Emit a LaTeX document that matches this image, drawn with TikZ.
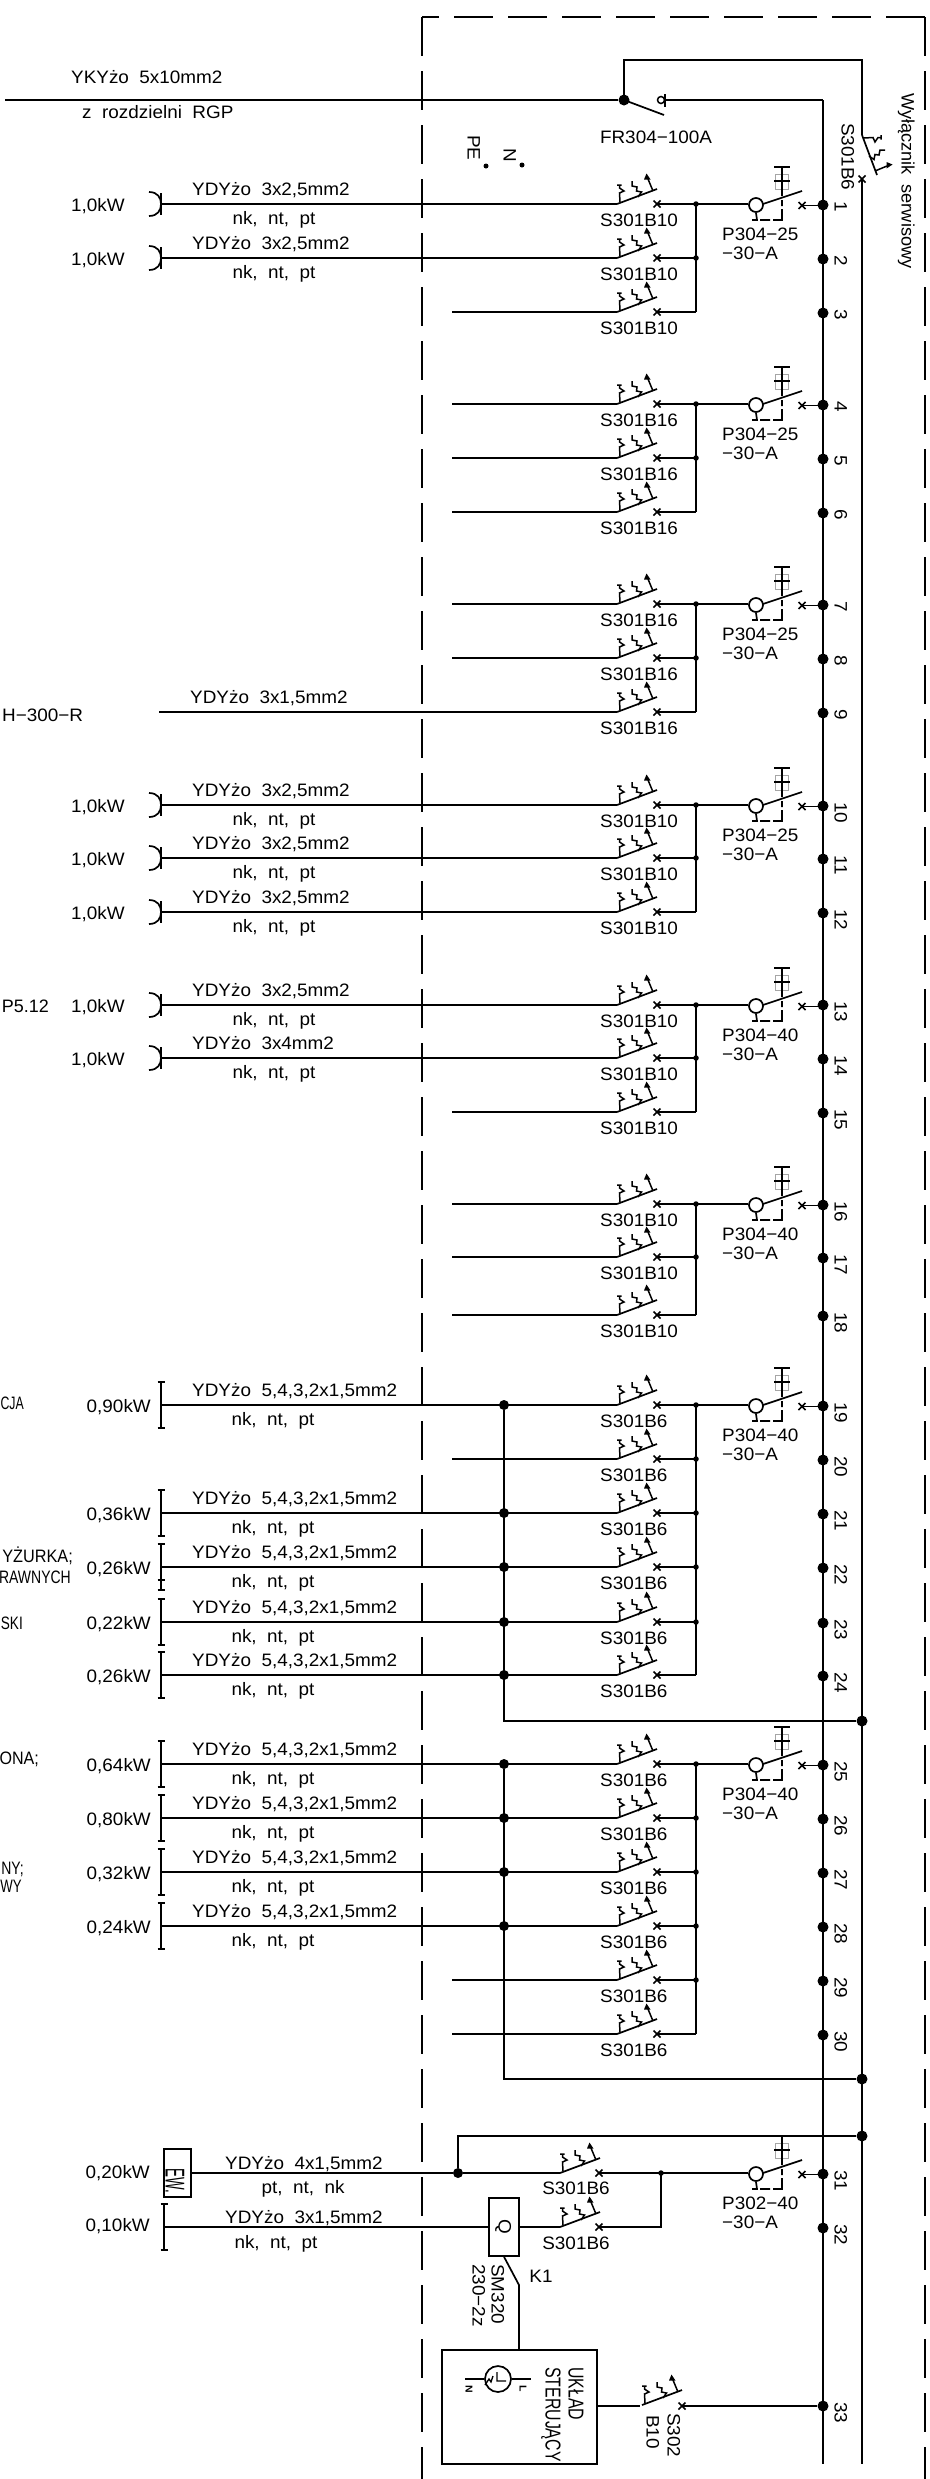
\documentclass[tikz,border=0pt]{standalone}
\usepackage{fontspec}
\usepackage{graphicx}
\setmainfont[FakeStretch=1.05]{Liberation Sans}
\tikzset{
  wire/.style={line width=1.7pt,black},
  symline/.style={line width=1.5pt,black},
  thick wire/.style={line width=2.6pt,black},
  txt/.style={font=\fontsize{18}{20}\selectfont,inner sep=0pt,text height=13pt,text depth=0pt},
  vtxt/.style={txt,rotate=-90,anchor=west},
  bigdot/.style={circle,fill=black,draw=none,minimum size=11pt,inner sep=0pt},
  smalldot/.style={circle,fill=black,draw=none,minimum size=5.5pt,inner sep=0pt},
  pedot/.style={circle,fill=black,draw=none,minimum size=5pt,inner sep=0pt},
  frameline/.style={line width=1.6pt,black,dash pattern=on 39pt off 15pt},
  greybox/.style={line width=0.8pt,black!35},
  ring/.style={circle,draw=black,line width=1.7pt,fill=white,minimum size=14pt,inner sep=0pt},
}
\newcommand\mcbsym[2]{\begin{scope}[shift={(#1)},rotate=#2]
  \draw[wire] (0,0)--(40,-15);
  \draw[symline] (0,-19)--(4.5,-19) (2.5,-19)--(2.5,-16)--(7,-13)--(2.5,-11)--(3,-2);
  \draw[symline] (15,-23)--(15,-18)--(20,-17)--(19.5,-13)--(24.5,-12)--(21,-7);
  \draw[symline] (36,-13)--(31,-25);
  \fill (29.5,-30.5)--(33.5,-24.5)--(27,-24.5)--cycle;
\end{scope}}
\newcommand\xmk[1]{\draw[wire] (#1)+(-3.5,-3.5)--+(3.5,3.5) (#1)+(-3.5,3.5)--+(3.5,-3.5);}
% #1 id, #2 row y, #3 line1 of label
\newcommand\rcdev[3]{
  \pgfmathsetmacro\ya{#2+1}\pgfmathsetmacro\ytop{#2-37}\pgfmathsetmacro\ybar{#2-23}
  \pgfmathsetmacro\ygt{#2-30}\pgfmathsetmacro\ygm{#2-22.5}\pgfmathsetmacro\ygb{#2-15}
  \pgfmathsetmacro\yda{#2-8}\pgfmathsetmacro\ydb{#2-4}\pgfmathsetmacro\ydc{#2+2}\pgfmathsetmacro\ydd{#2+5}\pgfmathsetmacro\yde{#2+16}
  \pgfmathsetmacro\yb{#2-13}\pgfmathsetmacro\yxm{#2+1.5}\pgfmathsetmacro\yca{#2+8}
  \pgfmathsetmacro\ylb{#2+30}\pgfmathsetmacro\ylc{#2+49}
  \draw[greybox] (775,\ygt) rectangle (788,\ygb) (775,\ygm)--(788,\ygm) (781.5,\ygt)--(781.5,\ygb);
  \node[ring] (C#1) at (756,\ya) {};
  \draw[wire] (J#1) -- (C#1.west|-J#1);
  \draw[wire] (763,#2)--(802,\yb);
  \draw[wire] (782,\ytop)--(782,\yda) (782,\ydb)--(782,\ydc) (782,\ydd)--(782,\yde)--(773,\yde) (770,\yde)--(760,\yde) (752,\yde)--(757,\yde)--(C#1.south);
  \draw[wire] (774,\ytop)--(790,\ytop) (774,\ybar)--(790,\ybar);
  \coordinate (R#1) at (802,\yxm);
  \xmk{R#1}
  \draw[wire] (R#1) -- (B#1.center|-R#1);
  \node[txt,anchor=west] (Pa#1) at (722,\ylb) {#3};
  \node[txt,anchor=west] (Pb#1) at (722,\ylc) {−30−A};
}
\newcommand\cabl[5]{% id y text sub subcentre
  \pgfmathsetmacro\yt{#2-15}\pgfmathsetmacro\yu{#2+14}
  \node[txt,anchor=west] (Ca#1) at (192,\yt) {#3};
  \node[txt] (Cb#1) at (#5,\yu) {#4};
}
\begin{document}
\begin{tikzpicture}[x=1pt,y=-1pt]
\useasboundingbox[fill=white] (0,0) rectangle (929,2479);
% frame
\coordinate (fa) at (422,2479); \coordinate (fb) at (422,17); \coordinate (fc) at (925,17); \coordinate (fd) at (925,2479);
\draw[frameline] (fb)--(fa);
\draw[frameline] (fc)--(fd);
\draw[frameline,dash phase=22pt] (fb)--(fc);
% bus and rail
\coordinate (bt) at (823,100); \coordinate (bb) at (823,2464);
\coordinate (bm) at (823,188);
\draw[wire] (bt)--(bm);
\draw[thick wire] (bm)--(bb);
\coordinate (rt) at (862,60); \coordinate (rs) at (862,135); \coordinate (rx) at (862,178); \coordinate (rb) at (862,2464);
% bus dots and numbers
\foreach \n/\y in {1/204,2/258,3/312,4/404,5/458,6/512,7/604,8/658,9/712,10/805,11/858,12/912,13/1004,14/1058,15/1112,16/1204,17/1257,18/1315,19/1405,20/1459,21/1513,22/1567,23/1622,24/1675,25/1764,26/1818,27/1872,28/1926,29/1980,30/2034,31/2173,32/2227,33/2405}{
  \pgfmathsetmacro\yd{\y+1}\pgfmathsetmacro\yl{\y-3}
  \node[bigdot] (B\n) at (823,\yd) {};
  \node[vtxt] (Nr\n) at (841,\yl) {\n};
}
% feeder
\coordinate (ins) at (5,100);
\node[bigdot] (frp) at (624,100) {};
\coordinate (frt) at (624,60);
\draw[wire] (ins)--(frp);
\draw[wire] (frp.center)--(frt)--(rt)--(rs);
\draw[wire] (frp.center)--(664,115);
\node[circle,draw=black,line width=1.5pt,minimum size=7pt,inner sep=0pt] (frc) at (661,100) {};
\draw[wire] (665,94)--(665,107);
\draw[wire] (665,100)--(bt);
\node[txt] (fr) at (656,137) {FR304−100A};
\node[txt,anchor=west] (ykya) at (71,77) {YKYżo~~5x10mm2};
\node[txt,anchor=west] (ykyb) at (82,112) {z~~rozdzielni~~RGP};
\node[vtxt] (pe) at (474,135) {PE};
\node[vtxt] (nn) at (510,148) {N};
\node[pedot] (ped) at (486,166) {};
\node[pedot] (ned) at (522,165) {};
% rail switch
\mcbsym{rs}{-90}
\coordinate (rxm) at (862,179);
\xmk{rxm}
\draw[wire] (rxm)--(rb);
\node[vtxt] (s6) at (848,123) {S301B6};
\node[vtxt] (wyl) at (908,93) {\scalebox{0.96}[1]{Wyłącznik~~serwisowy}};
% branches
\foreach \n/\y/\lx/\lab in {
 1/204/160/S301B10,2/258/160/S301B10,3/312/452/S301B10,
 4/404/452/S301B16,5/458/452/S301B16,6/512/452/S301B16,
 7/604/452/S301B16,8/658/452/S301B16,9/712/159/S301B16,
 10/805/161/S301B10,11/858/161/S301B10,12/912/161/S301B10,
 13/1005/161/S301B10,14/1058/161/S301B10,15/1112/452/S301B10,
 16/1204/452/S301B10,17/1257/452/S301B10,18/1315/452/S301B10,
 19/1405/160/S301B6,20/1459/452/S301B6,21/1513/160/S301B6,22/1567/160/S301B6,23/1622/160/S301B6,24/1675/160/S301B6,
 25/1764/161/S301B6,26/1818/161/S301B6,27/1872/161/S301B6,28/1926/161/S301B6,29/1980/452/S301B6,30/2034/452/S301B6}{
  \pgfmathsetmacro\yl{\y+16}
  \coordinate (L\n) at (\lx,\y);
  \coordinate (S\n) at (617,\y);
  \coordinate (X\n) at (657,\y);
  \coordinate (J\n) at (696,\y);
  \draw[wire] (L\n)--(S\n);
  \mcbsym{S\n}{0}
  \xmk{X\n}
  \draw[wire] (X\n)--(J\n);
  \node[txt,anchor=west] (Sl\n) at (600,\yl) {\lab};
}
% collectors
\foreach \a/\b in {1/3,4/6,7/9,10/12,13/15,16/18,19/24,25/30}{\draw[wire] (J\a)--(J\b);}
\foreach \n in {1,2,4,5,7,8,10,11,13,14,16,17,19,20,21,22,23,25,26,27,28,29}{\node[smalldot] (Jd\n) at (J\n) {};}
% RCDs
\rcdev{1}{204}{P304−25}
\rcdev{4}{404}{P304−25}
\rcdev{7}{604}{P304−25}
\rcdev{10}{805}{P304−25}
\rcdev{13}{1005}{P304−40}
\rcdev{16}{1204}{P304−40}
\rcdev{19}{1405}{P304−40}
\rcdev{25}{1764}{P304−40}
% cable labels
\cabl{1}{204}{YDYżo~~3x2,5mm2}{nk,~~nt,~~pt}{274}
\cabl{2}{258}{YDYżo~~3x2,5mm2}{nk,~~nt,~~pt}{274}
\cabl{10}{805}{YDYżo~~3x2,5mm2}{nk,~~nt,~~pt}{274}
\cabl{11}{858}{YDYżo~~3x2,5mm2}{nk,~~nt,~~pt}{274}
\cabl{12}{912}{YDYżo~~3x2,5mm2}{nk,~~nt,~~pt}{274}
\cabl{13}{1005}{YDYżo~~3x2,5mm2}{nk,~~nt,~~pt}{274}
\cabl{14}{1058}{YDYżo~~3x4mm2}{nk,~~nt,~~pt}{274}
\cabl{19}{1405}{YDYżo~~5,4,3,2x1,5mm2}{nk,~~nt,~~pt}{273}
\cabl{21}{1513}{YDYżo~~5,4,3,2x1,5mm2}{nk,~~nt,~~pt}{273}
\cabl{22}{1567}{YDYżo~~5,4,3,2x1,5mm2}{nk,~~nt,~~pt}{273}
\cabl{23}{1622}{YDYżo~~5,4,3,2x1,5mm2}{nk,~~nt,~~pt}{273}
\cabl{24}{1675}{YDYżo~~5,4,3,2x1,5mm2}{nk,~~nt,~~pt}{273}
\cabl{25}{1764}{YDYżo~~5,4,3,2x1,5mm2}{nk,~~nt,~~pt}{273}
\cabl{26}{1818}{YDYżo~~5,4,3,2x1,5mm2}{nk,~~nt,~~pt}{273}
\cabl{27}{1872}{YDYżo~~5,4,3,2x1,5mm2}{nk,~~nt,~~pt}{273}
\cabl{28}{1926}{YDYżo~~5,4,3,2x1,5mm2}{nk,~~nt,~~pt}{273}
\node[txt,anchor=west] (Ca9) at (190,697) {YDYżo~~3x1,5mm2};
% arc loads
\foreach \n/\y in {1/204,2/258,10/805,11/858,12/912,13/1005,14/1058}{
  \pgfmathsetmacro\ya{\y-12}\pgfmathsetmacro\yb{\y+12}\pgfmathsetmacro\yk{\y+1}
  \draw[wire] (149,\ya) .. controls (158,\ya) and (161,\y-6) .. (161,\y) .. controls (161,\y+6) and (158,\yb) .. (149,\yb);
  \draw[wire] (161,\y-11)--(161,\y+11);
  \node[txt] (Kw\n) at (98,\yk) {1,0kW};
}
% bar loads
\foreach \n/\y/\kw in {19/1405/{0,90kW},21/1513/{0,36kW},22/1567/{0,26kW},23/1622/{0,22kW},24/1675/{0,26kW},25/1764/{0,64kW},26/1818/{0,80kW},27/1872/{0,32kW},28/1926/{0,24kW}}{
  \pgfmathsetmacro\ya{\y-23}\pgfmathsetmacro\yb{\y+23}\pgfmathsetmacro\yk{\y+1}
  \draw[wire] (161,\ya)--(161,\yb) (157.5,\ya)--(164.5,\ya) (157.5,\yb)--(164.5,\yb);
  \node[txt,anchor=east] (Kw\n) at (151,\yk) {\kw};
}
\draw[wire] (157.5,1580)--(164.5,1580);
% outer texts
\node[txt,anchor=east] (tcja) at (24,1403) {\scalebox{0.65}[1]{CJA}};
\node[txt,anchor=east] (tdyz) at (73,1556) {\scalebox{0.86}[1]{YŻURKA;}};
\node[txt,anchor=east] (traw) at (71,1577) {\scalebox{0.74}[1]{RAWNYCH}};
\node[txt,anchor=east] (tski) at (23,1623) {\scalebox{0.72}[1]{SKI}};
\node[txt,anchor=east] (tona) at (39,1758) {\scalebox{0.85}[1]{ONA;}};
\node[txt,anchor=east] (tny) at (24,1868) {\scalebox{0.74}[1]{NY;}};
\node[txt,anchor=east] (twy) at (22,1886) {\scalebox{0.7}[1]{WY}};
\node[txt,anchor=west] (th3) at (2,715) {H−300−R};
\node[txt,anchor=east] (tp5) at (49,1006) {\scalebox{0.95}[1]{P5.12}};
% N bars
\foreach \n/\y in {19/1405,21/1513,22/1567,23/1622,24/1675,25/1764,26/1818,27/1872,28/1926}{
  \node[bigdot,minimum size=10pt] (Na\n) at (504,\y) {};
}
\node[bigdot] (Rj1) at (862,1721) {};
\node[bigdot] (Rj2) at (862,2079) {};
\node[bigdot] (Rj3) at (862,2136) {};
\coordinate (nc1) at (504,1721); \coordinate (nc2) at (504,2079);
\draw[wire] (Na19)--(nc1)--(Rj1);
\draw[wire] (Na25)--(nc2)--(Rj2);
% rows 31, 32
\node[draw=black,line width=1.5pt,minimum width=27pt,minimum height=48pt,inner sep=0pt] (ew) at (177.5,2173) {};
\node[font=\fontsize{17}{20}\selectfont,inner sep=0pt,rotate=-90] (ewt) at (175,2181) {\scalebox{0.75}[1.6]{EW.}};
\node[bigdot,minimum size=10pt] (N31) at (458,2173) {};
\coordinate (S31) at (560,2173); \coordinate (X31) at (599,2173); \coordinate (J31) at (661,2173);
\coordinate (S32) at (560,2227); \coordinate (X32) at (599,2227); \coordinate (J32) at (661,2227);
\draw[wire] (ew.east)--(N31)--(S31);
\coordinate (n31u) at (458,2136);
\draw[wire] (N31)--(n31u)--(Rj3);
\mcbsym{S31}{0}\mcbsym{S32}{0}
\xmk{X31}\xmk{X32}
\draw[wire] (X31)--(J31)--(J32)--(X32);
\node[smalldot] (Jd31) at (J31) {};
\node[txt] (Sl31) at (576,2188) {S301B6};
\node[txt] (Sl32) at (576,2243) {S301B6};
\rcdev{31}{2173}{P302−40}
\node[txt,anchor=east] (Kw31) at (150,2172) {0,20kW};
\node[txt,anchor=east] (Kw32) at (150,2225) {0,10kW};
\node[txt,anchor=west] (Ca31) at (225,2163) {YDYżo~~4x1,5mm2};
\node[txt] (Cb31) at (303,2187) {pt,~~nt,~~nk};
\node[txt,anchor=west] (Ca32) at (225,2217) {YDYżo~~3x1,5mm2};
\node[txt] (Cb32) at (276,2242) {nk,~~nt,~~pt};
\coordinate (L32) at (164,2227);
\draw[wire] (164,2204)--(164,2250) (160.5,2204)--(167.5,2204) (160.5,2250)--(167.5,2250);
\node[draw=black,line width=1.5pt,minimum width=30pt,minimum height=58pt,inner sep=0pt] (qb) at (504,2227) {};
\node[txt,rotate=-90] (qt) at (505,2227) {Q};
\draw[wire] (L32)--(qb.west);
\draw[wire] (qb.east)--(S32);
\node[vtxt] (sm1) at (498,2264) {SM320};
\node[vtxt] (sm2) at (479,2264) {230−2z};
\node[txt] (k1) at (541,2276) {K1};
% control box
\node[draw=black,line width=1.7pt,minimum width=155pt,minimum height=114pt,inner sep=0pt] (uk) at (519.5,2407) {};
\coordinate (kk) at (519,2285);
\draw[wire] (qb.south)--(kk)--(kk|-uk.north);
\node[vtxt] (uka) at (575,2367) {\scalebox{0.84}[1.2]{UKŁAD}};
\node[vtxt] (ukb) at (552,2367) {\scalebox{0.84}[1.2]{STERUJĄCY}};
\node[circle,draw=black,line width=1.7pt,minimum size=26pt,inner sep=0pt] (clk) at (498,2379) {};
\coordinate (clN) at (465,2379); \coordinate (clL) at (531,2379);
\draw[wire] (clN)--(clk.west) (clk.east)--(clL);
\draw[line width=1.3pt] (497,2372)--(497,2381)--(506,2381) (485,2385)--(489,2379)--(491,2382)--(493,2376);
\node[font=\bfseries\fontsize{10}{10}\selectfont,inner sep=0pt,rotate=-90] (nl) at (469,2389) {N};
\node[font=\bfseries\fontsize{10}{10}\selectfont,inner sep=0pt,rotate=-90] (ll) at (523,2389) {L};
% S302
\coordinate (S33) at (642,2405); \coordinate (X33) at (682,2406); \coordinate (W33) at (640,2406);
\mcbsym{S33}{0}
\xmk{X33}
\draw[wire] (uk.east|-W33)--(W33);
\draw[wire] (X33)--(B33);
\node[vtxt] (s302) at (674,2413) {S302};
\node[vtxt] (b10) at (653,2415) {B10};
\end{tikzpicture}
\end{document}
